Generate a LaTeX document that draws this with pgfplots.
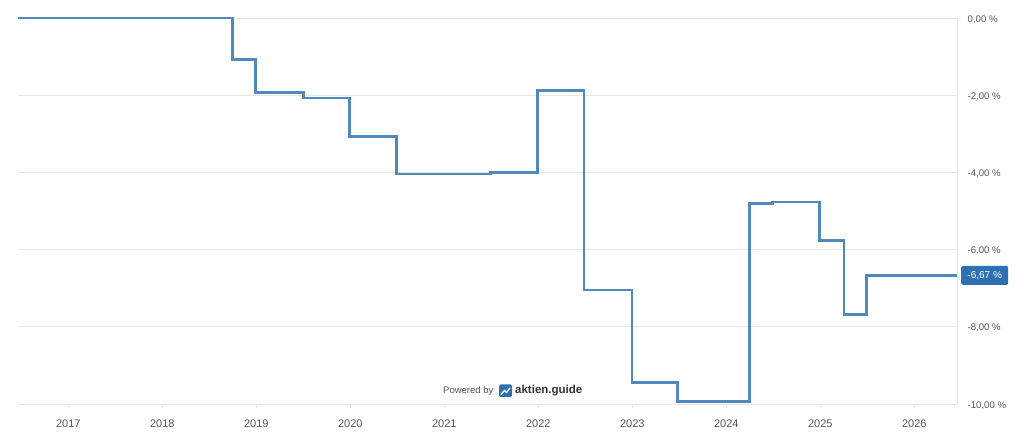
\documentclass[border=0pt]{standalone}
\usepackage{fontspec}
\setmainfont{Liberation Sans}
\usepackage{pgfplots}
\pgfplotsset{compat=1.18}
\definecolor{linec}{RGB}{82,137,188}
\definecolor{boxc}{RGB}{46,112,178}
\definecolor{gridc}{RGB}{230,230,230}
\definecolor{labc}{RGB}{85,85,85}
\definecolor{wmc}{RGB}{50,50,50}
\begin{document}
\begin{tikzpicture}
\useasboundingbox (-18bp,-41bp) rectangle (1006bp,404bp);
\begin{axis}[
  at={(0,0)}, anchor=south west,
  scale only axis, width=939bp, height=386bp,
  xmin=2016.465, xmax=2026.454, ymin=-10, ymax=0,
  axis x line*=bottom, axis y line*=right,
  axis line style={draw=gridc, line width=1bp},
  ymajorgrids, grid style={draw=gridc, line width=0.8bp},
  xtick={2017,2018,2019,2020,2021,2022,2023,2024,2025,2026},
  xticklabels={2017,2018,2019,2020,2021,2022,2023,2024,2025,2026},
  tick align=outside, major tick length=4bp,
  xtick style={draw=gridc, line width=1bp},
  ytick style={draw=none},
  ytick={-10,-8,-6,-4,-2,0},
  yticklabels={{-10,00 \%},{-8,00 \%},{-6,00 \%},{-4,00 \%},{-2,00 \%},{0,00 \%}},
  yticklabel style={anchor=west, inner sep=0pt, xshift=6.5bp, yshift=-1.4bp, font=\fontsize{9.6bp}{11bp}\selectfont, text=labc},
  xticklabel style={anchor=base, inner sep=0pt, yshift=-19bp, font=\fontsize{11bp}{13bp}\selectfont, text=labc},
  clip=false,
]
\addplot[const plot, draw=linec, line width=2.7bp, line join=miter] coordinates {
  (2016.465,0) (2018.745,-1.07) (2018.994,-1.93) (2019.50,-2.07) (2019.99,-3.07)
  (2020.494,-4.04) (2021.494,-4.01) (2021.99,-1.88) (2022.486,-7.05) (2022.997,-9.44)
  (2023.483,-9.93) (2024.245,-4.80) (2024.494,-4.77) (2024.99,-5.76) (2025.253,-7.68)
  (2025.49,-6.67) (2026.454,-6.67)
};
\node[anchor=west, fill=boxc, text=white, rounded corners=1.5bp, inner sep=0pt,
      minimum width=47bp, minimum height=19bp, font=\fontsize{10bp}{12bp}\selectfont]
  at (axis cs:2026.454,-6.67) [xshift=4bp] {-6,67 \%};
\end{axis}
% watermark
\node[anchor=west, inner sep=0pt, text=labc, font=\fontsize{9.5bp}{11bp}\selectfont] at (425bp,13bp) {Powered by};
\fill[boxc, rounded corners=1.5bp] (481bp,7bp) rectangle (494bp,19.5bp);
\draw[white, line width=1.3bp, line join=round, line cap=round] (483bp,9.5bp) -- (486.5bp,13.5bp) -- (488.5bp,11.5bp) -- (492bp,16bp);
\node[anchor=west, inner sep=0pt, text=wmc, font=\fontsize{11.5bp}{13bp}\selectfont\bfseries] at (497bp,13.5bp) {aktien.guide};
\end{tikzpicture}
\end{document}
